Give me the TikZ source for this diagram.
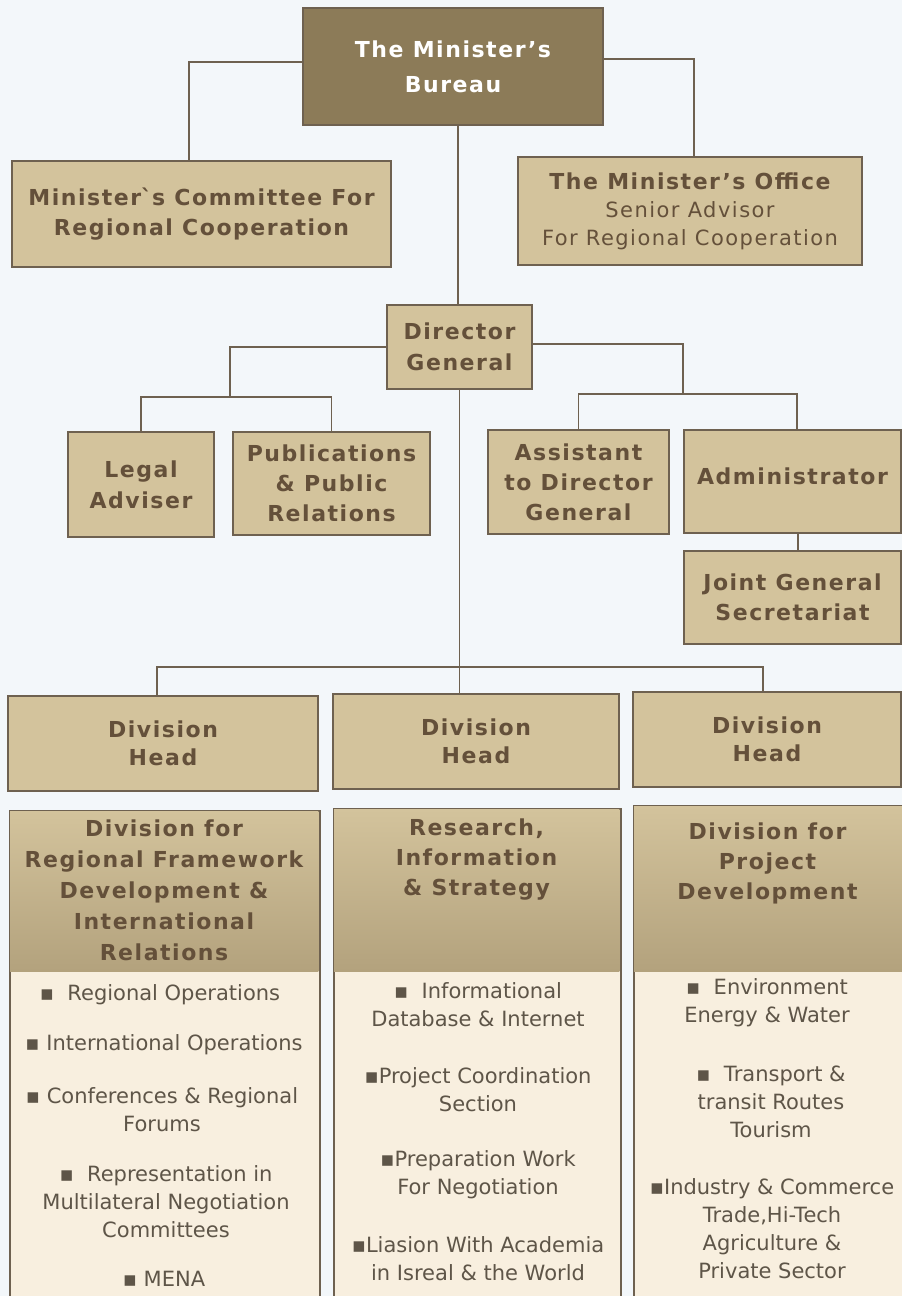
\documentclass[tikz,border=0pt]{standalone}
\usepackage{fontspec}
\setmainfont{DejaVu Sans}
\newfontfamily\boxfont{DejaVu Sans}[LetterSpace=7]
\newfontfamily\itemfont{DejaVu Sans}
\usetikzlibrary{calc}
\definecolor{bg}{HTML}{F3F7FA}
\definecolor{boxtan}{HTML}{D3C39C}
\definecolor{bureaufill}{HTML}{8C7B58}
\definecolor{hdrtop}{HTML}{D3C39C}
\definecolor{hdrbot}{HTML}{B3A27D}
\definecolor{bodyfill}{HTML}{F8EFDF}
\definecolor{edge}{HTML}{6E6150}
\definecolor{ink}{HTML}{64503A}
\definecolor{itemink}{HTML}{5E5548}
\tikzset{
  orgbox/.style={draw=edge, line width=1.6pt, fill=boxtan, inner sep=0pt, align=center,
    text=ink, font=\boxfont\bfseries\fontsize{22}{30}\selectfont},
  conn/.style={draw=edge, line width=1.3pt},
  divbody/.style={draw=edge, line width=1.6pt, fill=bodyfill, inner sep=0pt, anchor=north west},
  divhead/.style={inner sep=0pt, anchor=north west, top color=hdrtop, bottom color=hdrbot, draw=none},
  headtext/.style={align=center, text=ink, inner sep=0pt, font=\boxfont\bfseries\fontsize{22}{31}\selectfont},
  itemtext/.style={align=center, text=itemink, inner sep=0pt, font=\itemfont\fontsize{21}{28}\selectfont}
}
\begin{document}
\begin{tikzpicture}[x=1pt,y=-1pt]
\useasboundingbox (0,0) rectangle (902,1296);
\fill[bg] (0,0) rectangle (902,1296);

% top level
\node[orgbox, fill=bureaufill, text=white, minimum width=300, minimum height=117, font=\boxfont\bfseries\fontsize{22}{35}\selectfont] (bureau) at (453,66.5) {The Minister’s\\Bureau};
\node[orgbox, minimum width=379, minimum height=106] (committee) at (201.5,214) {Minister\textasciigrave s Committee For\\Regional Cooperation};
\node[orgbox, minimum width=344, minimum height=108, font=\boxfont\bfseries\fontsize{22}{28}\selectfont] (office) at (690,211) {The Minister’s Office\\{\mdseries\fontsize{21}{28}\selectfont Senior Advisor}\\{\mdseries\fontsize{21}{28}\selectfont For Regional Cooperation}};

% director general level
\node[orgbox, minimum width=145, minimum height=84, font=\boxfont\bfseries\fontsize{22}{31}\selectfont] (dg) at (459.5,347) {Director\\General};
\node[orgbox, minimum width=146, minimum height=105, font=\boxfont\bfseries\fontsize{22}{31}\selectfont] (legal) at (141,484.5) {Legal\\Adviser};
\node[orgbox, minimum width=197, minimum height=103] (pub) at (331.5,483.5) {Publications\\\& Public\\Relations};
\node[orgbox, minimum width=181, minimum height=104] (asst) at (578.5,482) {Assistant\\to Director\\General};
\node[orgbox, minimum width=217, minimum height=103, text depth=10pt] (admin) at (792.5,481.5) {Administrator};
\node[orgbox, minimum width=217, minimum height=93] (joint) at (792.5,597.5) {Joint General\\Secretariat};

% division heads
\node[orgbox, minimum width=310, minimum height=95, font=\boxfont\bfseries\fontsize{22}{28}\selectfont] (dh1) at (163,743.5) {Division\\Head};
\node[orgbox, minimum width=286, minimum height=95, font=\boxfont\bfseries\fontsize{22}{28}\selectfont] (dh2) at (476,741.5) {Division\\Head};
\node[orgbox, minimum width=268, minimum height=95, font=\boxfont\bfseries\fontsize{22}{28}\selectfont] (dh3) at (767,739.5) {Division\\Head};

% divisions
\node[divbody, minimum width=310, minimum height=488] (div1) at (9,810) {};
\node[divhead, minimum width=308.4, minimum height=160.2] (hd1) at (9.8,810.8) {};
\node[divbody, minimum width=287, minimum height=490] (div2) at (333,808) {};
\node[divhead, minimum width=285.4, minimum height=162.2] (hd2) at (333.8,808.8) {};
\node[divbody, minimum width=270, minimum height=493] (div3) at (633,805) {};
\node[divhead, minimum width=268.4, minimum height=165.2] (hd3) at (633.8,805.8) {};

\node[headtext] (ht1) at (164,890.5) {Division for\\Regional Framework\\Development \&\\International\\Relations};
\node[headtext, font=\boxfont\bfseries\fontsize{22}{30}\selectfont] (ht2) at (476.5,860) {Research,\\Information\\\& Strategy};
\node[headtext, font=\boxfont\bfseries\fontsize{22}{30}\selectfont] (ht3) at (767.5,863) {Division for\\Project\\Development};

% items, left
\node[itemtext] (l1) at (160,995) {▪\ \ Regional Operations};
\node[itemtext] (l2) at (164,1045) {▪ International Operations};
\node[itemtext] (l3) at (162,1109.5) {▪ Conferences \& Regional\\Forums};
\node[itemtext] (l4) at (166,1201.5) {▪\ \ Representation in\\Multilateral Negotiation\\Committees};
\node[itemtext] (l5) at (164,1279) {▪ MENA};
% items, middle
\node[itemtext] (m1) at (478,1005) {▪\ \ Informational\\Database \& Internet};
\node[itemtext] (m2) at (478,1089.5) {▪Project Coordination\\Section};
\node[itemtext] (m3) at (478,1174.5) {▪Preparation Work\\For Negotiation};
\node[itemtext] (m4) at (478,1259) {▪Liasion With Academia\\in Isreal \& the World};
% items, right
\node[itemtext] (r1) at (767,1003) {▪\ \ Environment\\Energy \& Water};
\node[itemtext] (r2) at (771,1101.5) {▪\ \ Transport \&\\transit Routes\\Tourism};
\node[itemtext] (r3) at (772,1229) {▪Industry \& Commerce\\Trade,Hi-Tech\\Agriculture \&\\Private Sector};

% connectors
\draw[conn] ([yshift=4.5pt]bureau.west) -| ([xshift=-12.5pt]committee.north);
\draw[conn] ([yshift=7.5pt]bureau.east) -| ([xshift=4pt]office.north);
\draw[conn] ([xshift=5pt]bureau.south) -- ([xshift=-1.5pt]dg.north);
\coordinate (jl) at (230,397);
\coordinate (jr) at (683,394);
\coordinate (jd) at (459.5,667);
\draw[conn] (dg.west) -| (jl);
\draw[conn] (legal.north) |- (jl) -| (pub.north);
\draw[conn] ([yshift=3pt]dg.east) -| (jr);
\draw[conn] (asst.north) |- (jr) -| ([xshift=4.5pt]admin.north);
\draw[conn] ([xshift=5.5pt]admin.south) -- ([xshift=5.5pt]joint.north);
\draw[conn] (dg.south) -- (dg.south |- dh2.north);
\draw[conn] ([xshift=-6pt]dh1.north) |- (jd) -| ([xshift=-4pt]dh3.north);
\end{tikzpicture}
\end{document}
